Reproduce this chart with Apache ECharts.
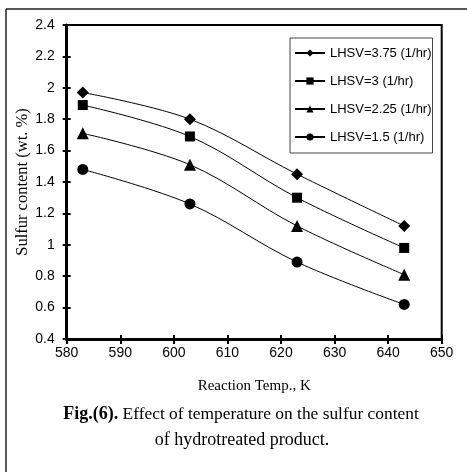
<!DOCTYPE html>
<html>
<head>
<meta charset="utf-8">
<script src="https://cdn.jsdelivr.net/npm/echarts@6/dist/echarts.min.js"></script>
<style>
html,body{margin:0;padding:0;background:#fff;}
#chart{width:467px;height:472px;}
</style>
</head>
<body>
<div id="chart"></div>
<script>
var temps = [583, 603, 623, 643];
var lhsv375 = [1.97, 1.80, 1.45, 1.12];
var lhsv3 = [1.89, 1.69, 1.30, 0.98];
var lhsv225 = [1.71, 1.51, 1.12, 0.81];
var lhsv15 = [1.48, 1.26, 0.89, 0.62];
var seriesNames = ['LHSV=3.75 (1/hr)', 'LHSV=3 (1/hr)', 'LHSV=2.25 (1/hr)', 'LHSV=1.5 (1/hr)'];
var xTicks = [580, 590, 600, 610, 620, 630, 640, 650];
var yTicks = [0.4, 0.6, 0.8, 1, 1.2, 1.4, 1.6, 1.8, 2, 2.2, 2.4];

var SANS = '"Liberation Sans", Arial, sans-serif';
var SERIF = '"Liberation Serif", "Times New Roman", serif';

function pairs(ys) { return temps.map(function (t, i) { return [t, ys[i]]; }); }

var symbols = ['diamond', 'rect', 'triangle', 'circle'];
var sizes = [12, 10, 12, 11];
var allData = [lhsv375, lhsv3, lhsv225, lhsv15];

var series = allData.map(function (d, i) {
  return {
    name: seriesNames[i],
    type: 'line',
    data: pairs(d),
    smooth: 0.35,
    symbol: symbols[i],
    symbolSize: sizes[i],
    showAllSymbol: true,
    lineStyle: { color: '#000', width: 1 },
    itemStyle: { color: '#000' },
    emphasis: { disabled: true },
    animation: false,
    z: 5
  };
});

var chart = echarts.init(document.getElementById('chart'), null, { renderer: 'canvas' });
var baseX = {
  type: 'value', min: xTicks[0], max: xTicks[xTicks.length - 1], interval: 10,
  splitLine: { show: false }
};
var baseY = {
  type: 'value', min: yTicks[0], max: yTicks[yTicks.length - 1], interval: 0.2,
  splitLine: { show: false }
};
chart.setOption({
  animation: false,
  backgroundColor: '#fff',
  grid: {
    left: 66.7, right: 25.3, top: 25, bottom: 133,
    show: true, borderColor: '#000', borderWidth: 2, backgroundColor: 'transparent'
  },
  legend: {
    left: 290, top: 38,
    orient: 'vertical',
    data: seriesNames,
    itemWidth: 30, itemHeight: 9, itemGap: 14,
    padding: [8, 1, 9, 4],
    borderColor: '#444', borderWidth: 1,
    backgroundColor: '#fff',
    textStyle: { fontFamily: SANS, fontSize: 13, color: '#000', lineHeight: 14 },
    selectedMode: false
  },
  xAxis: [
    Object.assign({}, baseX, {
      name: 'Reaction Temp., K',
      nameLocation: 'middle', nameGap: 40, nameMoveOverlap: false,
      nameTextStyle: { fontFamily: SERIF, fontSize: 15, color: '#000' },
      axisLine: { lineStyle: { color: '#000', width: 3 } },
      axisTick: { show: true, inside: false, length: 5, lineStyle: { color: '#000', width: 2 } },
      axisLabel: { fontFamily: SANS, fontSize: 14, color: '#000', margin: 7 }
    }),
    Object.assign({}, baseX, {
      position: 'bottom',
      axisLine: { show: false },
      axisTick: { show: true, inside: true, length: 4, lineStyle: { color: '#000', width: 2 } },
      axisLabel: { show: false }
    })
  ],
  yAxis: [
    Object.assign({}, baseY, {
      name: 'Sulfur content (wt. %)',
      nameLocation: 'middle', nameGap: 36, nameMoveOverlap: false,
      nameTextStyle: { fontFamily: SERIF, fontSize: 16.5, color: '#000' },
      axisLine: { lineStyle: { color: '#000', width: 3 } },
      axisTick: { show: true, inside: false, length: 4, lineStyle: { color: '#000', width: 2 } },
      axisLabel: {
        fontFamily: SANS, fontSize: 14, color: '#000', margin: 12,
        formatter: function (v) { return String(Math.round(v * 10) / 10); }
      }
    }),
    Object.assign({}, baseY, {
      position: 'left',
      axisLine: { show: false },
      axisTick: { show: true, inside: true, length: 4, lineStyle: { color: '#000', width: 2 } },
      axisLabel: { show: false }
    })
  ],
  series: series,
  graphic: [
    { type: 'line', shape: { x1: 6, y1: 9, x2: 467, y2: 9 }, style: { stroke: '#222', lineWidth: 1.5 }, silent: true },
    { type: 'line', shape: { x1: 6, y1: 9, x2: 6, y2: 472 }, style: { stroke: '#222', lineWidth: 1.5 }, silent: true },
    {
      type: 'text', x: 241, y: 414, silent: true,
      style: {
        text: '{b|Fig.(6).}{n| Effect of temperature on the sulfur content}',
        align: 'center', verticalAlign: 'middle',
        font: '17.4px ' + SERIF, fill: '#000',
        rich: {
          b: { fontFamily: SERIF, fontSize: 18, fontWeight: 'bold', fill: '#000' },
          n: { fontFamily: SERIF, fontSize: 17.4, fill: '#000' }
        }
      }
    },
    {
      type: 'text', x: 242, y: 440, silent: true,
      style: { text: 'of hydrotreated product.', align: 'center', verticalAlign: 'middle', font: '18px ' + SERIF, fill: '#000' }
    }
  ]
});
</script>
</body>
</html>
